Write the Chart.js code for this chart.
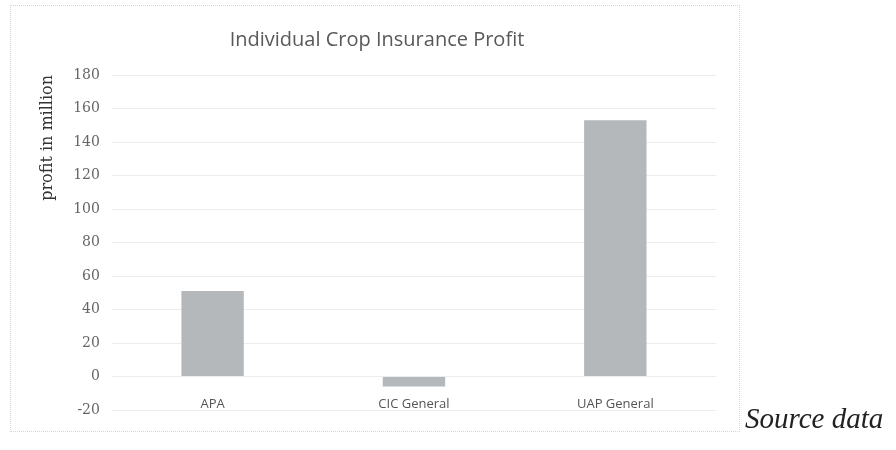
<!DOCTYPE html>
<html>
<head>
<meta charset="utf-8">
<script src="https://cdn.jsdelivr.net/npm/chart.js@4.4.1/dist/chart.umd.min.js"></script>
<style>
    html, body { margin: 0; padding: 0; background: #fff; }
    #wrap { position: relative; width: 896px; height: 450px; overflow: hidden; }
    #frame {
        position: absolute; left: 10px; top: 5px; width: 730px; height: 427px;
        border: 1px dotted #d6d6d6; box-sizing: border-box;
    }
    #source {
        position: absolute; left: 745px; top: 402px;
        font-family: 'Liberation Serif', serif; font-style: italic; font-size: 29px; color: #222;
    }
</style>
</head>
<body>
<div id="wrap">
    <div id="frame"></div>
    <canvas id="chart" width="896" height="450"></canvas>
    <div id="source">Source data</div>
</div>
<script>
const companies = ['APA', 'CIC General', 'UAP General'];
const profits = [51, -6, 153];
const yTicks = [-20, 0, 20, 40, 60, 80, 100, 120, 140, 160, 180];

window.addEventListener('load', function() {
    const ctx = document.getElementById('chart').getContext('2d');
    new Chart(ctx, {
        type: 'bar',
        data: {
            labels: companies,
            datasets: [{
                label: 'Profit',
                data: profits,
                backgroundColor: '#b5b8bb',
                borderWidth: 0,
                categoryPercentage: 1,
                barPercentage: 0.31
            }]
        },
        options: {
            responsive: false,
            animation: false,
            layout: {
                padding: { top: 28, left: 38, right: 180, bottom: 40 }
            },
            plugins: {
                legend: { display: false },
                tooltip: { enabled: false },
                title: {
                    display: true,
                    text: 'Individual Crop Insurance Profit',
                    color: '#595959',
                    font: { family: "'Open Sans'", size: 20, weight: 'normal' },
                    padding: { top: 0, bottom: 23 }
                }
            },
            scales: {
                x: {
                    position: { y: 0 },
                    grid: { display: false },
                    border: { display: false },
                    ticks: {
                        color: '#555',
                        padding: 12,
                        font: { family: "'Open Sans'", size: 13 }
                    }
                },
                y: {
                    min: yTicks[0],
                    max: yTicks[yTicks.length - 1],
                    afterBuildTicks: axis => { axis.ticks = yTicks.map(v => ({ value: v })); },
                    grid: { color: '#ececec', drawTicks: false },
                    border: { display: false },
                    ticks: {
                        color: '#666',
                        padding: 12,
                        font: { family: "'DejaVu Serif'", size: 14 }
                    },
                    title: {
                        display: true,
                        text: 'profit in million',
                        align: 'end',
                        color: '#333',
                        padding: { top: 0, bottom: 4 },
                        font: { family: "'DejaVu Serif'", size: 16 }
                    }
                }
            }
        }
    });
});
</script>
</body>
</html>
